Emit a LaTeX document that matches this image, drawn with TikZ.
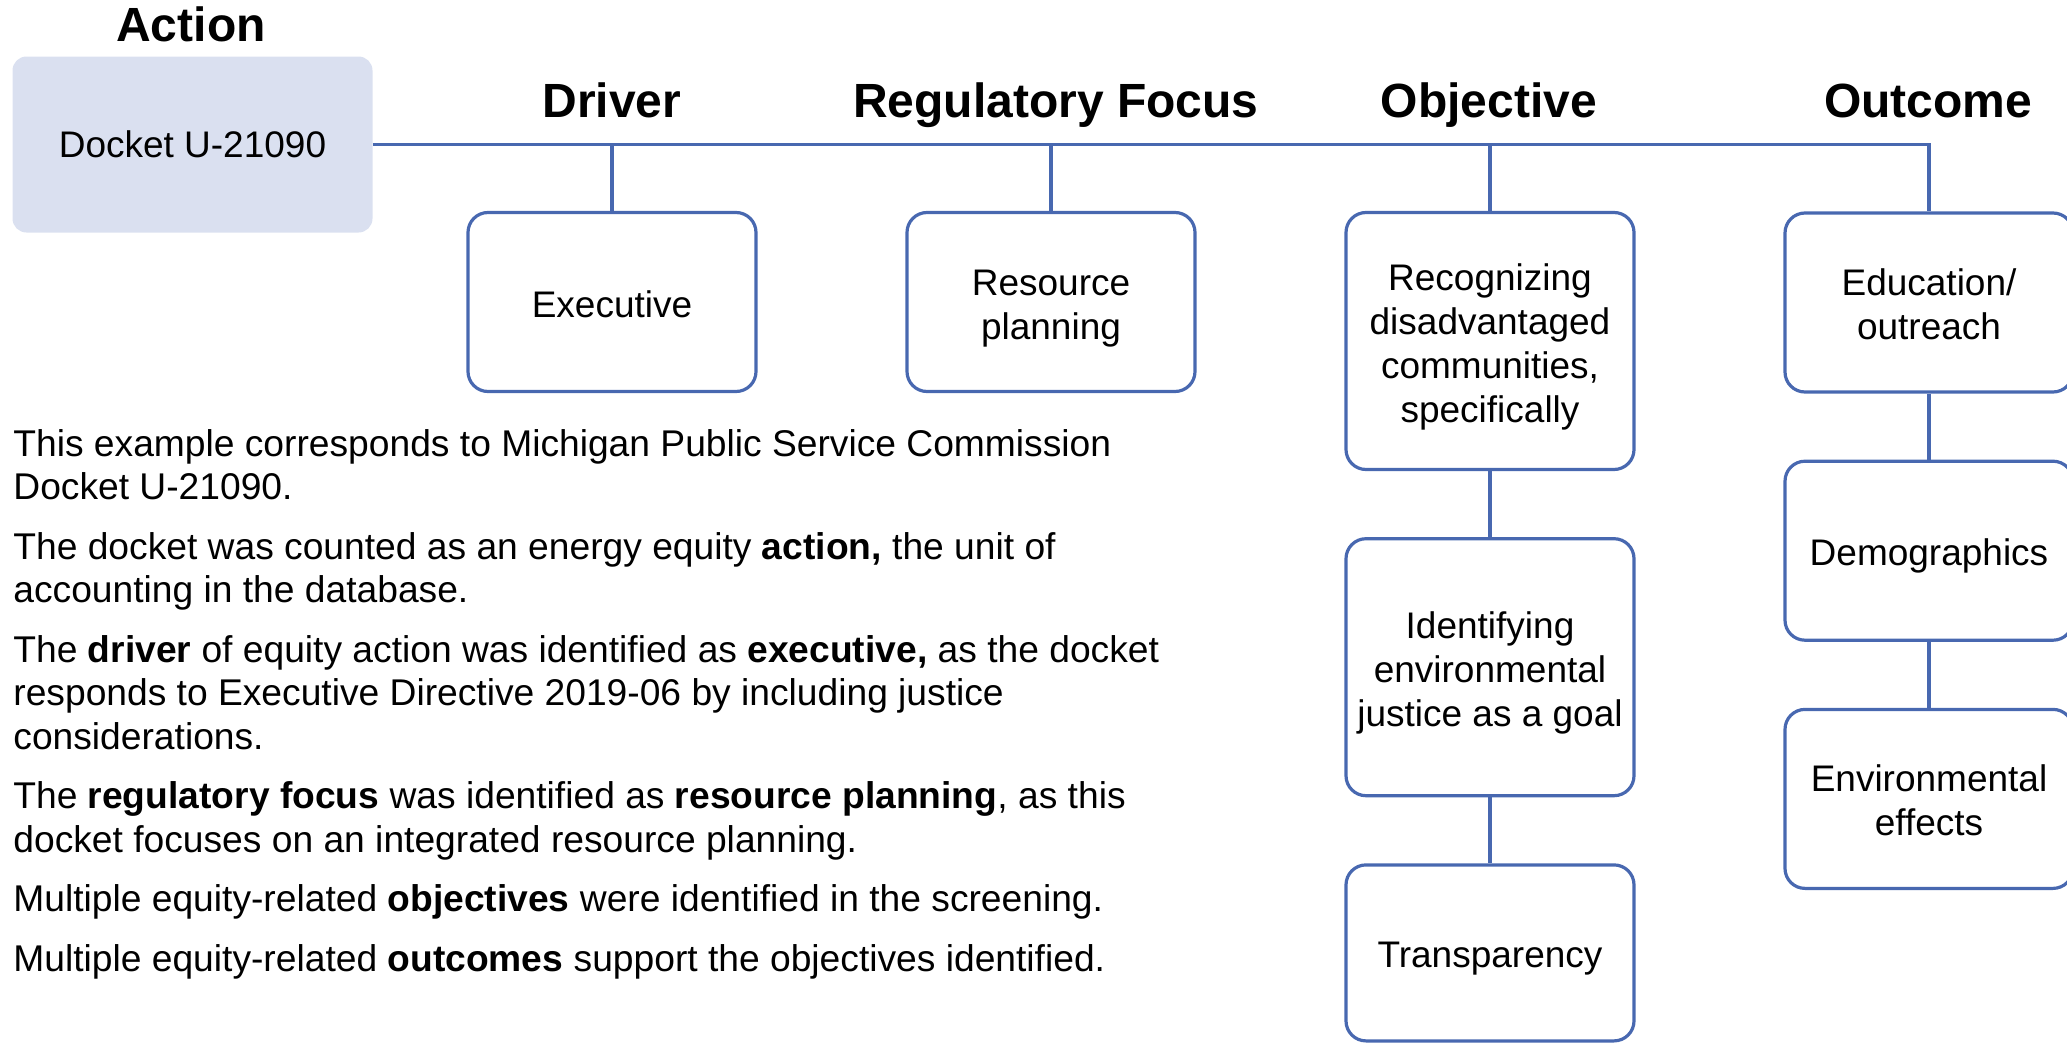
\documentclass[tikz,border=0pt]{standalone}
\usepackage{fontspec}
\setmainfont{Liberation Sans}
\usetikzlibrary{positioning}

\definecolor{linkblue}{HTML}{4868B0}
\definecolor{actfill}{HTML}{DAE0F0}

\newcommand{\boxstrut}{\rule{0pt}{19pt}}

\tikzset{
  head/.style={font=\fontsize{24}{28}\selectfont\bfseries, anchor=base},
  catbox/.style={draw=linkblue, line width=1.6pt, rounded corners=10pt, align=center,
    minimum width=144pt, minimum height=89.5pt, font=\fontsize{18.5}{22}\selectfont,
    execute at end node={\rule[-4pt]{0pt}{4pt}}},
  tallbox/.style={catbox, minimum height=128.5pt},
  conn/.style={draw=linkblue, line width=1.6pt}
}

\begin{document}
\begin{tikzpicture}[x=0.5pt, y=-0.5pt, node distance=33pt]
\useasboundingbox (0,0) rectangle (2067,1044);
\clip (0,0) rectangle (2067,1044);

% action
\node[head] (acthd) at (191,41) {Action};
\node[fill=actfill, rounded corners=7pt, minimum width=180pt, minimum height=88pt,
  font=\fontsize{18.5}{22}\selectfont] (act) at (192.5,144.5) {Docket U-21090};

% column heads
\node[head] (drvhd) at (612,117) {Driver};
\node[head] (reghd) at (1056,117) {Regulatory Focus};
\node[head] (objhd) at (1489,117) {Objective};
\node[head] (outhd) at (1928,117) {Outcome};

% boxes
\node[catbox] (exec) at (612,302) {\boxstrut Executive};
\node[catbox] (res) at (1051,302) {\boxstrut Resource\\ planning};

\node[tallbox] (rec) at (1490,341) {\boxstrut Recognizing\\ disadvantaged\\ communities,\\ specifically};
\node[tallbox, below=of rec] (ident) {\boxstrut Identifying\\ environmental\\ justice as a goal};
\node[catbox, minimum height=88pt, below=of ident] (transp) {\boxstrut Transparency};

\node[catbox] (edu) at (1929,302.5) {\boxstrut Education/\\ outreach};
\node[catbox, below=of edu] (demo) {\boxstrut Demographics};
\node[catbox, below=of demo] (envf) {\boxstrut Environmental\\ effects};

% connectors
\draw[conn] (act.east) -| (edu.north);
\foreach \b in {exec,res,rec}
  \draw[conn] (\b.north) -- (\b.north |- act.east);
\draw[conn] (rec) -- (ident) -- (transp);
\draw[conn] (edu) -- (demo) -- (envf);

% notes
\node[anchor=north west, inner sep=0pt, align=left, font=\fontsize{18.6}{21.75}\selectfont] (notes) at (13,429) {%
This example corresponds to Michigan Public Service Commission\\
Docket U-21090.\\[8pt]
The docket was counted as an energy equity \textbf{action,} the unit of\\
accounting in the database.\\[8pt]
The \textbf{driver} of equity action was identified as \textbf{executive,} as the docket\\
responds to Executive Directive 2019-06 by including justice\\
considerations.\\[8pt]
The \textbf{regulatory focus} was identified as \textbf{resource planning}, as this\\
docket focuses on an integrated resource planning.\\[8pt]
Multiple equity-related \textbf{objectives} were identified in the screening.\\[8pt]
Multiple equity-related \textbf{outcomes} support the objectives identified.};

\end{tikzpicture}
\end{document}
